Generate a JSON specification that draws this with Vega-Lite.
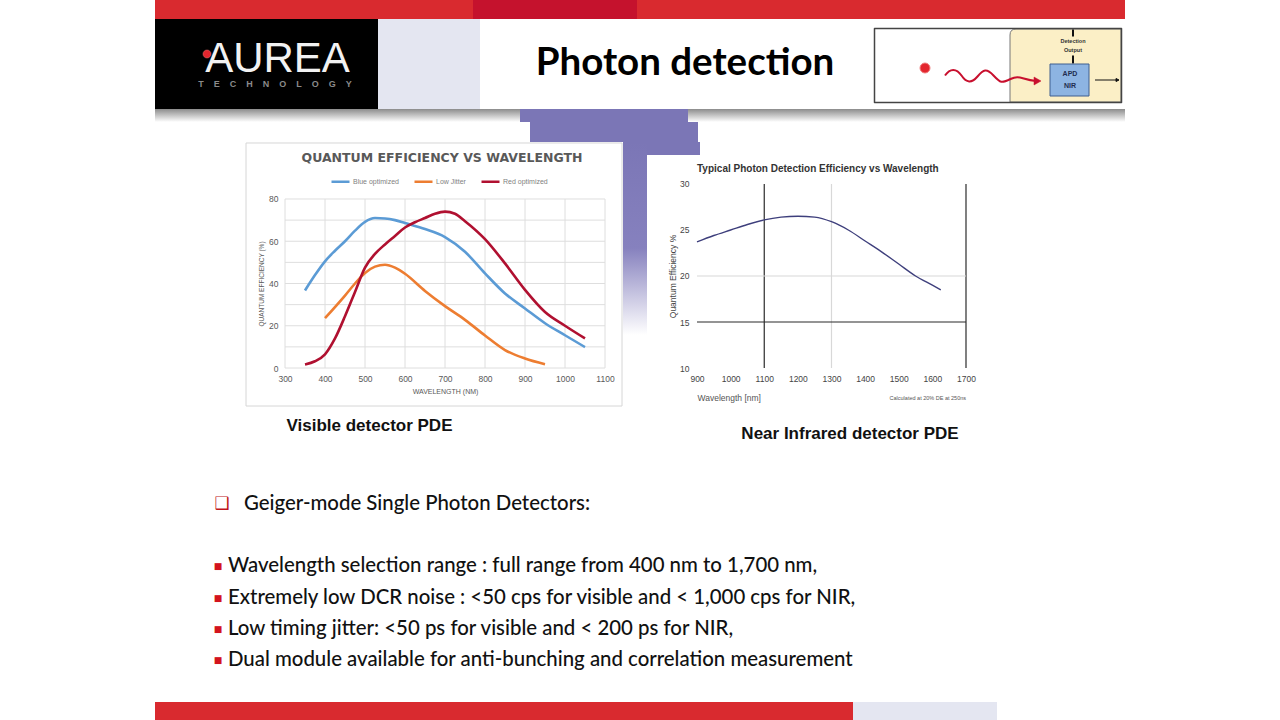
{
  "$schema": "https://vega.github.io/schema/vega-lite/v6.json",
  "background": "#FFFFFF",
  "padding": {"left": 155, "top": 0, "right": 0, "bottom": 0},
  "config": {"view": {"stroke": null}, "concat": {"spacing": 0}},
  "spacing": 0,
  "vconcat": [
    {"hconcat": [
      {"width": 318, "height": 19, "data": {"values": []}, "mark": "point", "view": {"fill": "#D92A2F", "stroke": null}},
      {"width": 164, "height": 19, "data": {"values": []}, "mark": "point", "view": {"fill": "#C5122D", "stroke": null}},
      {"width": 488, "height": 19, "data": {"values": []}, "mark": "point", "view": {"fill": "#D92A2F", "stroke": null}}
    ], "spacing": 0},
    {"hconcat": [
      {"width": 223, "height": 90, "view": {"fill": "#000000", "stroke": null},
       "layer": [
         {"data": {"values": [{"label": "AUREA"}]}, "mark": {"type": "text", "font": "Liberation Sans", "fontSize": 42, "color": "#F2F2F2", "baseline": "alphabetic", "dx": 11, "dy": 8}, "encoding": {"text": {"field": "label"}}},
         {"data": {"values": [{"label": "T\u00a0\u00a0\u00a0\u00a0E\u00a0\u00a0\u00a0\u00a0C\u00a0\u00a0\u00a0\u00a0H\u00a0\u00a0\u00a0\u00a0N\u00a0\u00a0\u00a0\u00a0O\u00a0\u00a0\u00a0\u00a0L\u00a0\u00a0\u00a0\u00a0O\u00a0\u00a0\u00a0\u00a0G\u00a0\u00a0\u00a0\u00a0Y"}]}, "mark": {"type": "text", "font": "Liberation Sans", "fontSize": 9, "fontWeight": "bold", "color": "#8A8A8A", "baseline": "middle", "dx": 8.5, "dy": 19.5}, "encoding": {"text": {"field": "label"}}},
         {"data": {"values": [{"part": "logo dot"}]}, "mark": {"type": "point", "filled": true, "opacity": 1, "size": 10000, "fill": "#E3262E", "stroke": "#F07070", "strokeWidth": 0.5, "shape": "M-1.27,-0.2 A0.08,0.08 0 1,0 -1.11,-0.2 A0.08,0.08 0 1,0 -1.27,-0.2 Z"}}
       ]},
      {"width": 102, "height": 90, "data": {"values": []}, "mark": "point", "view": {"fill": "#E4E6F1", "stroke": null}},
      {"width": 370, "height": 90, "data": {"values": [{"label": "Photon detection"}]}, "mark": {"type": "text", "font": "Lato", "fontSize": 38.5, "fontWeight": "bold", "color": "#000000", "baseline": "middle", "dx": 20, "dy": -1}, "encoding": {"text": {"field": "label"}}},
      {"width": 23, "height": 90, "data": {"values": []}, "mark": "point"},
      {"vconcat": [
        {"width": 250, "height": 8, "data": {"values": []}, "mark": "point"},
        {"width": 250, "height": 77, "view": {"fill": "#FFFFFF", "stroke": null},
         "layer": [
           {"data": {"values": [{"part": "detector housing"}]}, "mark": {"type": "point", "filled": true, "opacity": 1, "size": 10000, "fill": "#FBEFC6", "stroke": "#777777", "strokeWidth": 1, "strokeJoin": "round", "shape": "M0.36,-0.73 H2.46 V0.73 H0.24 V-0.61 Q0.24,-0.73 0.36,-0.73 Z"}},
           {"data": {"values": [{"part": "frame"}]}, "mark": {"type": "point", "filled": false, "opacity": 1, "size": 10000, "stroke": "#444444", "strokeWidth": 1.5, "strokeJoin": "round", "shape": "M-2.47,-0.74 H2.47 V0.74 H-2.47 Z"}},
           {"data": {"values": [{"part": "output ticks"}]}, "mark": {"type": "point", "filled": false, "opacity": 1, "size": 10000, "stroke": "#111111", "strokeWidth": 2, "strokeJoin": "round", "shape": "M1.5,-0.72 V-0.58 M1.5,-0.2 V-0.04"}},
           {"data": {"values": [{"part": "detector"}]}, "mark": {"type": "point", "filled": true, "opacity": 1, "size": 10000, "fill": "#8DB4E2", "stroke": "#3F5F8F", "strokeWidth": 1, "strokeJoin": "round", "shape": "M1.04,-0.03 H1.82 V0.61 H1.04 Z"}},
           {"data": {"values": [{"part": "photon path"}]}, "mark": {"type": "point", "filled": false, "opacity": 1, "size": 10000, "stroke": "#C8102E", "strokeWidth": 2, "strokeJoin": "round", "shape": "M-1.06,0.2 C-0.96,0.05 -0.83,0.05 -0.73,0.2 S-0.53,0.36 -0.41,0.22 S-0.23,0.05 -0.09,0.2 S0.07,0.36 0.25,0.27 S0.47,0.28 0.76,0.31"}},
           {"data": {"values": [{"part": "photon arrowhead"}]}, "mark": {"type": "point", "filled": true, "opacity": 1, "size": 10000, "fill": "#C8102E", "stroke": "#C8102E", "strokeWidth": 0.5, "strokeJoin": "round", "shape": "M0.72,0.23 L0.86,0.31 L0.72,0.39 Z"}},
           {"data": {"values": [{"part": "photon"}]}, "mark": {"type": "point", "filled": true, "opacity": 1, "size": 10000, "fill": "#E3262E", "stroke": "#F08080", "strokeWidth": 1, "shape": "M-1.56,0.05 A0.1,0.1 0 1,0 -1.36,0.05 A0.1,0.1 0 1,0 -1.56,0.05 Z"}},
           {"data": {"values": [{"part": "output arrow"}]}, "mark": {"type": "point", "filled": true, "opacity": 1, "size": 10000, "fill": "#111111", "stroke": "#111111", "strokeWidth": 1, "strokeJoin": "round", "shape": "M1.94,0.29 H2.36 M2.36,0.26 L2.42,0.29 L2.36,0.32 Z"}},
           {"data": {"values": [{"label": "APD"}]}, "mark": {"type": "text", "font": "Liberation Sans", "fontSize": 7, "fontWeight": "bold", "color": "#1F2D50", "baseline": "middle", "dx": 72, "dy": 8.5}, "encoding": {"text": {"field": "label"}}},
           {"data": {"values": [{"label": "NIR"}]}, "mark": {"type": "text", "font": "Liberation Sans", "fontSize": 7, "fontWeight": "bold", "color": "#1F2D50", "baseline": "middle", "dx": 72, "dy": 20.5}, "encoding": {"text": {"field": "label"}}},
           {"data": {"values": [{"label": "Detection"}]}, "mark": {"type": "text", "font": "Liberation Sans", "fontSize": 5.5, "fontWeight": "bold", "color": "#333333", "baseline": "middle", "dx": 75, "dy": -24.5}, "encoding": {"text": {"field": "label"}}},
           {"data": {"values": [{"label": "Output"}]}, "mark": {"type": "text", "font": "Liberation Sans", "fontSize": 5.5, "fontWeight": "bold", "color": "#333333", "baseline": "middle", "dx": 75, "dy": -15.5}, "encoding": {"text": {"field": "label"}}}
         ]}
      ], "spacing": 0}
    ], "spacing": 0},
    {"hconcat": [
      {"width": 365, "height": 13, "data": {"values": []}, "mark": "point", "view": {"fill": {"gradient": "linear", "x1": 0, "y1": 0, "x2": 0, "y2": 1, "stops": [{"offset": 0, "color": "#8C8C8C"}, {"offset": 1, "color": "#FFFFFF"}]}, "stroke": null}},
      {"width": 168, "height": 13, "data": {"values": []}, "mark": "point", "view": {"fill": "#7B76B6", "stroke": null}},
      {"width": 437, "height": 13, "data": {"values": []}, "mark": "point", "view": {"fill": {"gradient": "linear", "x1": 0, "y1": 0, "x2": 0, "y2": 1, "stops": [{"offset": 0, "color": "#8C8C8C"}, {"offset": 1, "color": "#FFFFFF"}]}, "stroke": null}}
    ], "spacing": 0},
    {"hconcat": [
      {"width": 375, "height": 20, "data": {"values": []}, "mark": "point"},
      {"width": 168, "height": 20, "data": {"values": []}, "mark": "point", "view": {"fill": "#7B76B6", "stroke": null}}
    ], "spacing": 0},
    {"hconcat": [
      {"width": 90, "height": 265, "data": {"values": []}, "mark": "point"},
      {"width": 378, "height": 265,
       "view": {"fill": "#FFFFFF", "stroke": null},
       "title": {"text": "QUANTUM EFFICIENCY VS WAVELENGTH", "anchor": "middle", "frame": "group", "offset": -22, "dx": 8, "font": "DejaVu Sans", "fontSize": 12.5, "fontWeight": "bold", "color": "#595959"},
       "layer": [
         {"data": {"values": [{"part": "chart frame"}]},
          "mark": {"type": "rect", "filled": false, "stroke": "#D6D6D6", "strokeWidth": 1, "strokeJoin": "round"},
          "encoding": {
            "x": {"datum": 202.5, "type": "quantitative", "scale": {"domain": [200, 1145], "nice": false, "zero": false}},
            "x2": {"datum": 1142.5},
            "y": {"datum": -17.99, "type": "quantitative", "scale": {"domain": [-18.46, 106.98], "nice": false, "zero": false}},
            "y2": {"datum": 106.51}
          }},
         {"data": {"values": [{"wl": 300}, {"wl": 400}, {"wl": 500}, {"wl": 600}, {"wl": 700}, {"wl": 800}, {"wl": 900}, {"wl": 1000}, {"wl": 1100}]},
          "mark": {"type": "rule", "color": "#DEDEDE", "strokeWidth": 1},
          "encoding": {
            "x": {"field": "wl", "type": "quantitative", "scale": {"domain": [200, 1145], "nice": false, "zero": false}},
            "y": {"datum": 0, "type": "quantitative", "scale": {"domain": [-18.46, 106.98], "nice": false, "zero": false}},
            "y2": {"datum": 80}
          }},
         {"data": {"values": [{"qe": 0}, {"qe": 10}, {"qe": 20}, {"qe": 30}, {"qe": 40}, {"qe": 50}, {"qe": 60}, {"qe": 70}, {"qe": 80}]},
          "mark": {"type": "rule", "color": "#DEDEDE", "strokeWidth": 1},
          "encoding": {
            "y": {"field": "qe", "type": "quantitative", "scale": {"domain": [-18.46, 106.98], "nice": false, "zero": false}},
            "x": {"datum": 300, "type": "quantitative", "scale": {"domain": [200, 1145], "nice": false, "zero": false}},
            "x2": {"datum": 1100}
          }},
         {"data": {"values": [
            {"series": "Blue optimized", "wl": 350, "qe": 36.7},
            {"series": "Blue optimized", "wl": 375, "qe": 44},
            {"series": "Blue optimized", "wl": 400, "qe": 50.5},
            {"series": "Blue optimized", "wl": 425, "qe": 55.5},
            {"series": "Blue optimized", "wl": 450, "qe": 60},
            {"series": "Blue optimized", "wl": 475, "qe": 65},
            {"series": "Blue optimized", "wl": 500, "qe": 69.2},
            {"series": "Blue optimized", "wl": 525, "qe": 71},
            {"series": "Blue optimized", "wl": 550, "qe": 70.8},
            {"series": "Blue optimized", "wl": 575, "qe": 70},
            {"series": "Blue optimized", "wl": 600, "qe": 68.6},
            {"series": "Blue optimized", "wl": 650, "qe": 65.8},
            {"series": "Blue optimized", "wl": 700, "qe": 62},
            {"series": "Blue optimized", "wl": 750, "qe": 55},
            {"series": "Blue optimized", "wl": 800, "qe": 44.8},
            {"series": "Blue optimized", "wl": 850, "qe": 35.3},
            {"series": "Blue optimized", "wl": 900, "qe": 28.2},
            {"series": "Blue optimized", "wl": 950, "qe": 21.2},
            {"series": "Blue optimized", "wl": 1000, "qe": 15.5},
            {"series": "Blue optimized", "wl": 1050, "qe": 9.9},
            {"series": "Low Jitter", "wl": 400, "qe": 23.6},
            {"series": "Low Jitter", "wl": 450, "qe": 34.3},
            {"series": "Low Jitter", "wl": 475, "qe": 40},
            {"series": "Low Jitter", "wl": 500, "qe": 45},
            {"series": "Low Jitter", "wl": 525, "qe": 48},
            {"series": "Low Jitter", "wl": 550, "qe": 48.9},
            {"series": "Low Jitter", "wl": 575, "qe": 47.5},
            {"series": "Low Jitter", "wl": 600, "qe": 44.6},
            {"series": "Low Jitter", "wl": 650, "qe": 36.5},
            {"series": "Low Jitter", "wl": 700, "qe": 29.3},
            {"series": "Low Jitter", "wl": 750, "qe": 22.8},
            {"series": "Low Jitter", "wl": 800, "qe": 15.4},
            {"series": "Low Jitter", "wl": 850, "qe": 8.5},
            {"series": "Low Jitter", "wl": 900, "qe": 4.5},
            {"series": "Low Jitter", "wl": 950, "qe": 1.8},
            {"series": "Red optimized", "wl": 350, "qe": 1.7},
            {"series": "Red optimized", "wl": 375, "qe": 3.2},
            {"series": "Red optimized", "wl": 400, "qe": 6.5},
            {"series": "Red optimized", "wl": 425, "qe": 14},
            {"series": "Red optimized", "wl": 450, "qe": 24.5},
            {"series": "Red optimized", "wl": 475, "qe": 36},
            {"series": "Red optimized", "wl": 500, "qe": 47.5},
            {"series": "Red optimized", "wl": 525, "qe": 54},
            {"series": "Red optimized", "wl": 550, "qe": 58.5},
            {"series": "Red optimized", "wl": 575, "qe": 62.5},
            {"series": "Red optimized", "wl": 600, "qe": 66.5},
            {"series": "Red optimized", "wl": 625, "qe": 69},
            {"series": "Red optimized", "wl": 650, "qe": 71},
            {"series": "Red optimized", "wl": 675, "qe": 73},
            {"series": "Red optimized", "wl": 700, "qe": 74},
            {"series": "Red optimized", "wl": 725, "qe": 73},
            {"series": "Red optimized", "wl": 750, "qe": 69.5},
            {"series": "Red optimized", "wl": 800, "qe": 61},
            {"series": "Red optimized", "wl": 850, "qe": 49.5},
            {"series": "Red optimized", "wl": 900, "qe": 37},
            {"series": "Red optimized", "wl": 950, "qe": 26.5},
            {"series": "Red optimized", "wl": 1000, "qe": 20},
            {"series": "Red optimized", "wl": 1050, "qe": 14}
          ]},
          "mark": {"type": "line", "interpolate": "monotone", "strokeWidth": 2.6, "strokeJoin": "round"},
          "encoding": {
            "x": {"field": "wl", "type": "quantitative", "scale": {"domain": [200, 1145], "nice": false, "zero": false},
                  "axis": {"values": [300, 400, 500, 600, 700, 800, 900, 1000, 1100], "format": "d", "labelOverlap": false, "grid": false, "domain": false, "ticks": false, "offset": -39, "labelPadding": 6, "labelFont": "Liberation Sans", "labelFontSize": 8.5, "labelColor": "#595959", "title": "WAVELENGTH (NM)", "titleFont": "Liberation Sans", "titleFontSize": 7, "titleFontWeight": "normal", "titleColor": "#595959", "titleX": 200, "titleY": 23, "titleBaseline": "middle", "titleAnchor": "middle"}},
            "y": {"field": "qe", "type": "quantitative", "scale": {"domain": [-18.46, 106.98], "nice": false, "zero": false},
                  "axis": {"values": [0, 10, 20, 30, 40, 50, 60, 70, 80], "format": "d", "labelOverlap": false, "grid": false, "domain": false, "ticks": false, "offset": -40, "labelPadding": 7, "labelFont": "Liberation Sans", "labelFontSize": 8.5, "labelColor": "#595959", "title": "QUANTUM EFFICIENCY (%)", "titleFont": "Liberation Sans", "titleFontSize": 6.5, "titleFontWeight": "normal", "titleColor": "#595959", "titleX": -24, "titleY": 141.5, "titleBaseline": "middle"}},
            "color": {"field": "series", "type": "nominal",
                      "scale": {"domain": ["Blue optimized", "Low Jitter", "Red optimized"], "range": ["#5B9BD5", "#ED7D31", "#B01030"]},
                      "legend": {"orient": "none", "legendX": 175, "legendY": 171, "direction": "horizontal", "title": null, "symbolType": "stroke", "symbolSize": 324, "symbolStrokeWidth": 2.5, "labelFont": "Liberation Sans", "labelFontSize": 7, "labelColor": "#7F7F7F", "labelOffset": 2, "columnPadding": 10}}
          }}
       ]},
      {"width": 24, "height": 193, "data": {"values": []}, "mark": "point", "view": {"fill": {"gradient": "linear", "x1": 0, "y1": 0, "x2": 0, "y2": 1, "stops": [{"offset": 0, "color": "#7B76B6"}, {"offset": 0.55, "color": "#8681BE"}, {"offset": 1, "color": "#FFFFFF"}]}, "stroke": null}},
      {"vconcat": [
        {"width": 53, "height": 13, "data": {"values": []}, "mark": "point", "view": {"fill": "#7B76B6", "stroke": null}},
        {"width": 331, "height": 250,
         "title": {"text": "Typical Photon Detection Efficiency vs Wavelength", "anchor": "start", "frame": "group", "offset": -19, "dx": 50, "font": "Liberation Sans", "fontSize": 10, "fontWeight": "bold", "color": "#333333"},
         "layer": [
           {"data": {"values": [{"wl": 1100, "kind": "major"}, {"wl": 1300, "kind": "minor"}, {"wl": 1700, "kind": "major"}]},
            "transform": [{"filter": "datum.kind === 'major'"}],
            "mark": {"type": "rule", "strokeWidth": 1.2, "color": "#2B2B2B"},
            "encoding": {
              "x": {"field": "wl", "type": "quantitative", "scale": {"domain": [751.3, 1735.7], "nice": false, "zero": false}},
              "y": {"datum": 10, "type": "quantitative", "scale": {"domain": [5.98, 33.15], "nice": false, "zero": false}},
              "y2": {"datum": 30}
            }},
           {"data": {"values": [{"wl": 1100, "kind": "major"}, {"wl": 1300, "kind": "minor"}, {"wl": 1700, "kind": "major"}]},
            "transform": [{"filter": "datum.kind === 'minor'"}],
            "mark": {"type": "rule", "strokeWidth": 1.2, "color": "#D8D8D8"},
            "encoding": {
              "x": {"field": "wl", "type": "quantitative", "scale": {"domain": [751.3, 1735.7], "nice": false, "zero": false}},
              "y": {"datum": 10, "type": "quantitative", "scale": {"domain": [5.98, 33.15], "nice": false, "zero": false}},
              "y2": {"datum": 30}
            }},
           {"data": {"values": [{"qe": 15, "kind": "major"}, {"qe": 20, "kind": "minor"}]},
            "transform": [{"filter": "datum.kind === 'major'"}],
            "mark": {"type": "rule", "strokeWidth": 1.2, "color": "#2B2B2B"},
            "encoding": {
              "y": {"field": "qe", "type": "quantitative", "scale": {"domain": [5.98, 33.15], "nice": false, "zero": false}},
              "x": {"datum": 900, "type": "quantitative", "scale": {"domain": [751.3, 1735.7], "nice": false, "zero": false}},
              "x2": {"datum": 1700}
            }},
           {"data": {"values": [{"qe": 15, "kind": "major"}, {"qe": 20, "kind": "minor"}]},
            "transform": [{"filter": "datum.kind === 'minor'"}],
            "mark": {"type": "rule", "strokeWidth": 1.2, "color": "#D8D8D8"},
            "encoding": {
              "y": {"field": "qe", "type": "quantitative", "scale": {"domain": [5.98, 33.15], "nice": false, "zero": false}},
              "x": {"datum": 900, "type": "quantitative", "scale": {"domain": [751.3, 1735.7], "nice": false, "zero": false}},
              "x2": {"datum": 1700}
            }},
           {"data": {"values": [
              {"wl": 900, "pde": 23.7}, {"wl": 950, "pde": 24.4}, {"wl": 1000, "pde": 25.0}, {"wl": 1050, "pde": 25.6},
              {"wl": 1100, "pde": 26.1}, {"wl": 1150, "pde": 26.4}, {"wl": 1200, "pde": 26.5}, {"wl": 1250, "pde": 26.4},
              {"wl": 1300, "pde": 25.9}, {"wl": 1350, "pde": 25.0}, {"wl": 1400, "pde": 23.8}, {"wl": 1450, "pde": 22.6},
              {"wl": 1500, "pde": 21.3}, {"wl": 1550, "pde": 20.0}, {"wl": 1600, "pde": 19.0}, {"wl": 1625, "pde": 18.5}
            ]},
            "mark": {"type": "line", "interpolate": "monotone", "strokeWidth": 1.4, "color": "#3E3F7C", "strokeJoin": "round"},
            "encoding": {
              "x": {"field": "wl", "type": "quantitative", "scale": {"domain": [751.3, 1735.7], "nice": false, "zero": false},
                    "axis": {"values": [900, 1000, 1100, 1200, 1300, 1400, 1500, 1600, 1700], "format": "d", "labelOverlap": false, "grid": false, "domain": false, "ticks": false, "offset": -37, "labelPadding": 6, "labelFont": "Liberation Sans", "labelFontSize": 8.5, "labelColor": "#444444", "title": "Wavelength [nm]", "titleFont": "Liberation Sans", "titleFontSize": 8.5, "titleFontWeight": "normal", "titleColor": "#555555", "titleAnchor": "start", "titleAlign": "left", "titleX": 50, "titleY": 29, "titleBaseline": "middle"}},
              "y": {"field": "pde", "type": "quantitative", "scale": {"domain": [5.98, 33.15], "nice": false, "zero": false},
                    "axis": {"values": [10, 15, 20, 25, 30], "format": "d", "labelOverlap": false, "grid": false, "domain": false, "ticks": false, "offset": -50, "labelPadding": 8, "labelFont": "Liberation Sans", "labelFontSize": 8.5, "labelColor": "#444444", "title": "Quantum Efficiency %", "titleFont": "Liberation Sans", "titleFontSize": 8.5, "titleFontWeight": "normal", "titleColor": "#444444", "titleX": -25, "titleY": 121, "titleBaseline": "middle"}}
            }},
           {"data": {"values": [{"label": "Calculated at 20% DE at 250ns"}]},
            "mark": {"type": "text", "align": "right", "baseline": "middle", "font": "Liberation Sans", "fontSize": 5.5, "color": "#555555"},
            "encoding": {
              "x": {"datum": 1700, "type": "quantitative", "scale": {"domain": [751.3, 1735.7], "nice": false, "zero": false}},
              "y": {"datum": 6.75, "type": "quantitative", "scale": {"domain": [5.98, 33.15], "nice": false, "zero": false}},
              "text": {"field": "label"}
            }}
         ]}
      ], "spacing": 0}
    ], "spacing": 0},
    {"hconcat": [
      {"width": 90, "height": 38, "data": {"values": []}, "mark": "point"},
      {"width": 249, "height": 38, "data": {"values": [{"label": "Visible detector PDE"}]}, "mark": {"type": "text", "font": "Liberation Sans", "fontSize": 17, "fontWeight": "bold", "color": "#111111", "baseline": "middle"}, "encoding": {"text": {"field": "label"}}},
      {"width": 226, "height": 38, "data": {"values": []}, "mark": "point"},
      {"width": 260, "height": 54, "data": {"values": [{"label": "Near Infrared detector PDE"}]}, "mark": {"type": "text", "font": "Liberation Sans", "fontSize": 17, "fontWeight": "bold", "color": "#111111", "baseline": "middle"}, "encoding": {"text": {"field": "label"}}}
    ], "spacing": 0},
    {"width": 10, "height": 29, "data": {"values": []}, "mark": "point"},
    {"hconcat": [
      {"width": 55, "height": 180, "data": {"values": []}, "mark": "point"},
      {"width": 670, "height": 180,
       "data": {"values": [
         {"line": 0, "level": "heading", "label": "Geiger-mode Single Photon Detectors:"},
         {"line": 2, "level": "item", "label": "Wavelength selection range : full range from 400 nm to 1,700 nm,"},
         {"line": 3, "level": "item", "label": "Extremely low DCR noise : <50 cps for visible and  < 1,000 cps for NIR,"},
         {"line": 4, "level": "item", "label": "Low timing jitter:  <50 ps for visible  and < 200 ps for NIR,"},
         {"line": 5, "level": "item", "label": "Dual module available for anti-bunching and correlation measurement"}
       ]},
       "encoding": {
         "y": {"field": "line", "type": "quantitative", "scale": {"domain": [-0.449, 5.321], "reverse": true, "nice": false, "zero": false}, "axis": null},
         "x": {"datum": 0, "type": "quantitative", "scale": {"domain": [0, 1], "nice": false, "zero": false}, "axis": null}
       },
       "layer": [
         {"transform": [{"filter": "datum.level === 'heading'"}], "mark": {"type": "text", "align": "left", "baseline": "middle", "font": "Lato", "fontSize": 20.4, "fontWeight": 500, "color": "#111111", "dx": 34}, "encoding": {"text": {"field": "label"}}},
         {"transform": [{"filter": "datum.level === 'heading'"}], "mark": {"type": "text", "align": "center", "baseline": "middle", "font": "DejaVu Sans", "fontSize": 17, "color": "#C0141B", "dx": 12, "text": "❑"}},
         {"transform": [{"filter": "datum.level === 'item'"}], "mark": {"type": "text", "align": "left", "baseline": "middle", "font": "Lato", "fontSize": 20.4, "fontWeight": 500, "color": "#111111", "dx": 18}, "encoding": {"text": {"field": "label"}}},
         {"transform": [{"filter": "datum.level === 'item'"}], "mark": {"type": "text", "align": "center", "baseline": "middle", "font": "DejaVu Sans", "fontSize": 9, "color": "#D3131E", "dx": 8, "text": "■"}}
       ]}
    ], "spacing": 0},
    {"width": 10, "height": 31, "data": {"values": []}, "mark": "point"},
    {"hconcat": [
      {"width": 698, "height": 19, "data": {"values": []}, "mark": "point", "view": {"fill": "#D92A2F", "stroke": null}},
      {"width": 144, "height": 19, "data": {"values": []}, "mark": "point", "view": {"fill": "#E4E6F1", "stroke": null}},
      {"width": 128, "height": 19, "data": {"values": []}, "mark": "point"}
    ], "spacing": 0}
  ]
}
